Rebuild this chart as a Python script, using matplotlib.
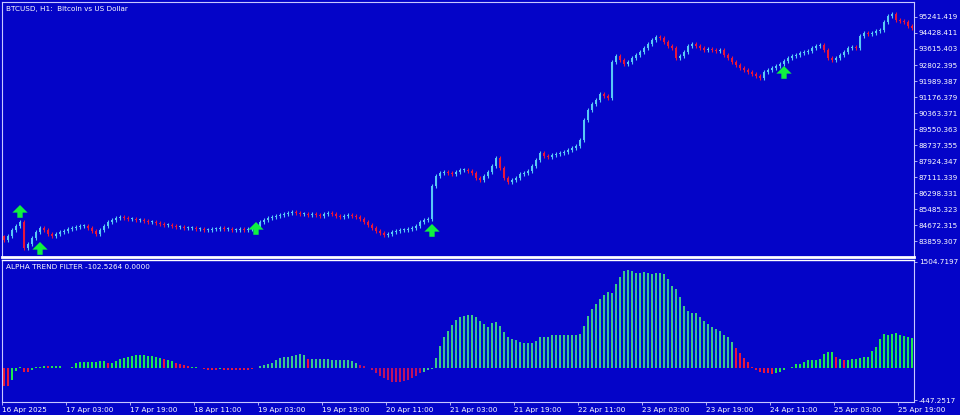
import matplotlib.pyplot as plt
import numpy as np

# closes per H1 bar (BTCUSD)
closes = [
    83913, 84116, 84421, 84624, 84827, 83507, 83710, 84015, 84319, 84522, 84421, 84218, 84116, 84218, 84319, 84370,
    84472, 84522, 84573, 84624, 84624, 84522, 84370, 84218, 84421, 84624, 84827, 84929, 85031, 85081, 85031, 84980,
    84980, 84929, 84929, 84878, 84827, 84827, 84777, 84726, 84675, 84675, 84624, 84573, 84573, 84522, 84522, 84522,
    84472, 84472, 84421, 84421, 84472, 84472, 84522, 84472, 84472, 84421, 84421, 84472, 84421, 84472, 84522, 84624,
    84827, 84929, 85031, 85081, 85132, 85183, 85234, 85285, 85335, 85285, 85234, 85234, 85183, 85234, 85183, 85132,
    85234, 85285, 85234, 85132, 85081, 85132, 85183, 85132, 85081, 84980, 84827, 84675, 84522, 84370, 84269, 84167,
    84218, 84319, 84370, 84421, 84421, 84472, 84522, 84624, 84827, 84929, 84980, 86657, 87167, 87321, 87371, 87321,
    87266, 87371, 87469, 87469, 87418, 87321, 87063, 86961, 87167, 87371, 87672, 88079, 87571, 87063, 86860, 86961,
    87063, 87266, 87321, 87418, 87672, 87977, 88333, 88180, 88130, 88231, 88282, 88333, 88383, 88485, 88587, 88688,
    88993, 90009, 90517, 90822, 91025, 91330, 91228, 91127, 92955, 93260, 93057, 92854, 92955, 93159, 93311, 93463,
    93667, 93870, 94073, 94226, 94175, 93971, 93768, 93667, 93159, 93260, 93463, 93768, 93870, 93768, 93667, 93565,
    93616, 93565, 93514, 93565, 93311, 93159, 92955, 92803, 92651, 92549, 92447, 92346, 92244, 92143, 92447, 92549,
    92651, 92752, 92854, 93006, 93159, 93260, 93311, 93413, 93463, 93514, 93667, 93768, 93819, 93565, 93159, 93057,
    93159, 93311, 93463, 93667, 93718, 93667, 94276, 94429, 94378, 94429, 94530, 94581, 94987, 95292, 95394, 95089,
    95038, 94987, 94784, 94682,
]
first_open = 84100

# buy arrows: bar index and tip price
arrow_bars = [4, 9, 63, 107, 195]
arrow_tips = [85691, 83812, 84827, 84726, 92752]

# ALPHA TREND FILTER histogram
hist = [
    -252, -252, -168, -42, 14, -56, -56, -28, 14, 21, 28, 28, 28, 28, 28, 0,
    0, 14, 70, 84, 84, 84, 84, 84, 98, 98, 70, 70, 98, 126, 154, 168,
    182, 196, 196, 189, 182, 182, 168, 154, 140, 112, 98, 70, 56, 42, 28, 14,
    14, 0, -14, -28, -28, -28, -14, -28, -28, -28, -28, -28, -28, -28, -14, 0,
    28, 42, 56, 70, 112, 154, 168, 168, 182, 196, 210, 196, 140, 140, 126, 126,
    126, 126, 112, 112, 112, 112, 112, 98, 70, 42, 28, 0, -28, -70, -112, -140,
    -168, -196, -196, -196, -182, -168, -140, -112, -70, -56, -28, -14, 154, 322, 448, 532,
    616, 686, 728, 742, 756, 756, 728, 672, 630, 588,
    644, 658, 602, 518, 448, 420, 406, 378, 364, 364,
    364, 392, 448, 448, 448, 476, 476, 476, 476, 476,
    476, 476, 490, 602, 742, 840, 910, 980, 1036, 1078,
    1064, 1190, 1288, 1372, 1386, 1372, 1344, 1344, 1358, 1344,
    1330, 1344, 1344, 1330, 1260, 1162, 1120, 1008, 882, 812,
    784, 784, 728, 672, 630, 588, 560, 532, 476, 448,
    378, 294, 224, 154, 84, 14, -28, -56, -70, -70,
    -84, -70, -56, -28, 0, 14, 56, 56, 84, 112,
    112, 112, 140, 210, 238, 238, 168, 140, 112, 112,
    126, 140, 154, 168, 168, 252, 308, 420, 490, 476,
    490, 504, 476, 462, 448, 434,
]
# colour runs for the histogram
hist_runs = [('r', 2), ('g', 3), ('r', 2), ('g', 4), ('r', 1), ('g', 14), ('r', 1), ('g', 13),
             ('r', 1), ('g', 2), ('r', 4), ('g', 3), ('r', 4), ('g', 1), ('r', 8), ('g', 1),
             ('t', 12), ('r', 1), ('t', 12), ('m', 16), ('t', 7),
             ('t', 71), ('r', 10), ('g', 15), ('r', 1), ('g', 1), ('r', 1), ('g', 17)]

price_labels = ['95241.419', '94428.411', '93615.403', '92802.395', '91989.387', '91176.379',
                '90363.371', '89550.363', '88737.355', '87924.347', '87111.339', '86298.331',
                '85485.323', '84672.315', '83859.307']
ind_labels = ['1504.7197', '-447.2517']
time_labels = ['16 Apr 2025', '17 Apr 03:00', '17 Apr 19:00', '18 Apr 11:00', '19 Apr 03:00',
               '19 Apr 19:00', '20 Apr 11:00', '21 Apr 03:00', '21 Apr 19:00', '22 Apr 11:00',
               '23 Apr 03:00', '23 Apr 19:00', '24 Apr 11:00', '25 Apr 03:00', '25 Apr 19:00']

BG = '#0404c8'
UP = '#59c8f5'
DN = '#e8163c'
FG = '#c8c8ff'
cmap = {'r': '#e8163c', 'm': '#c01060', 'g': '#1ee650', 't': '#3cc88c'}

closes = np.array(closes, dtype=float)
opens = np.concatenate([[first_open], closes[:-1]])
n = len(closes)
idx = np.arange(n)

fig = plt.figure(figsize=(9.6, 4.15), dpi=100, facecolor=BG)
ax = fig.add_axes([2 / 960, 1 - 257 / 415, 912 / 960, 255 / 415], facecolor=BG)
ax2 = fig.add_axes([2 / 960, 1 - 402 / 415, 912 / 960, 142 / 415], facecolor=BG)

# candles
up = closes >= opens
lo = np.minimum(opens, closes)
hi = np.maximum(opens, closes)
body = np.maximum(hi - lo, 60)
cols = np.where(up, UP, DN)
ax.vlines(idx, lo - 90, hi + 90, colors=cols, lw=0.8)
ax.bar(idx, body, bottom=lo, width=0.7, color=cols, linewidth=0)

for b, tip in zip(arrow_bars, arrow_tips):
    ax.annotate('', xy=(b, tip), xytext=(b, tip - 650),
                arrowprops=dict(arrowstyle='simple,head_length=0.5,head_width=1.0,tail_width=0.35',
                                mutation_scale=11, fc='#10f040', ec='none', shrinkA=0, shrinkB=0))

ax.set_xlim(-0.5, n - 0.5)
ax.set_ylim(83049, 96003)
ax.yaxis.tick_right()
ax.set_yticks([float(s) for s in price_labels])
ax.set_yticklabels(price_labels)
ax.set_xticks([])
ax.text(0.004, 0.985, 'BTCUSD, H1:  Bitcoin vs US Dollar', transform=ax.transAxes,
        color='white', fontsize=5.2, va='top', ha='left')

# histogram
hcols = []
for c, k in hist_runs:
    hcols += [cmap[c]] * k
ax2.bar(np.arange(len(hist)), hist, width=0.55, color=hcols, linewidth=0)
ax2.set_xlim(-0.5, n - 0.5)
ax2.set_ylim(-475, 1533)
ax2.yaxis.tick_right()
ax2.set_yticks([float(s) for s in ind_labels])
ax2.set_yticklabels(ind_labels)
ax2.set_xticks([16 * k - 0.5 for k in range(len(time_labels))])
ax2.set_xticklabels(time_labels, ha='left')
ax2.text(0.004, 0.975, 'ALPHA TREND FILTER -102.5264 0.0000', transform=ax2.transAxes,
         color='white', fontsize=5.2, va='top', ha='left')

for a in (ax, ax2):
    for s in a.spines.values():
        s.set_color(FG)
        s.set_linewidth(0.8)
    a.tick_params(colors=FG, labelcolor='white', labelsize=5.2, length=2.5, width=0.6, pad=1)
ax.spines['bottom'].set_color('white')
ax.spines['bottom'].set_linewidth(2)
ax2.spines['top'].set_color('white')
ax2.spines['top'].set_linewidth(1)

fig.savefig('out.png', dpi=100, facecolor=BG)
